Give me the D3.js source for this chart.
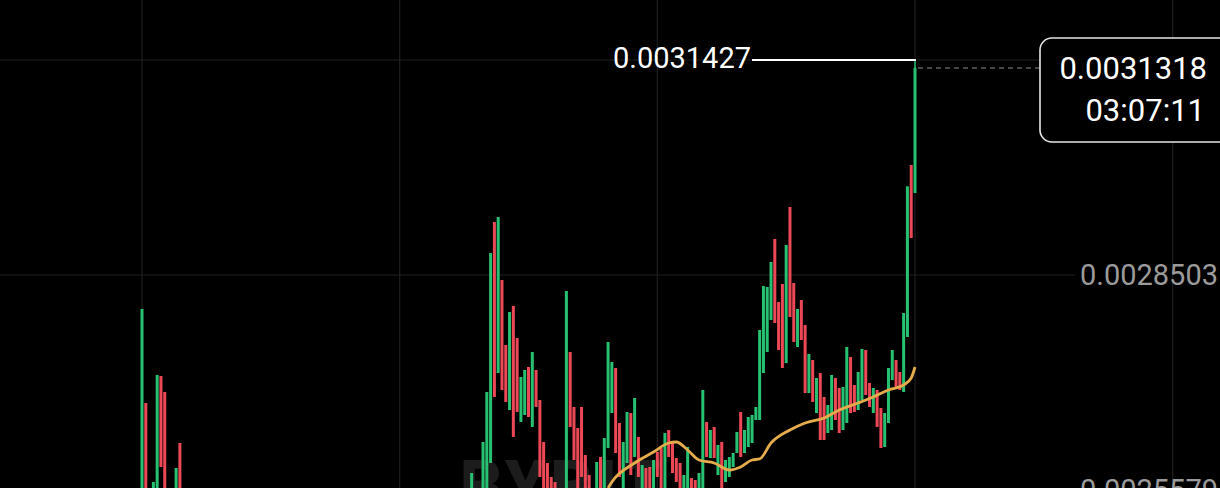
<!DOCTYPE html>
<html>
<head>
<meta charset="utf-8">
<script src="https://cdn.jsdelivr.net/npm/d3@7"></script>
<style>
  html, body { margin: 0; padding: 0; background: #000; overflow: hidden; }
  svg { display: block; font-family: Roboto, "Noto Sans", sans-serif; }
</style>
</head>
<body>
<svg width="1220" height="488"></svg>
<script>
// candle slot (position in the series), open and close prices
const slots = [0, 1, 3, 4, 5, 6, 9, 10,
  87, 90, 91, 92, 93, 94, 95, 96, 97, 98, 99, 100, 101, 102, 103, 104, 105, 106, 107, 108, 109,
  112, 113, 114, 115, 116, 117, 118, 120, 121, 122, 123, 124, 125, 126, 127, 128, 129, 130,
  131, 132, 133, 134, 135, 136, 137, 138, 139, 140, 141, 142, 143, 144, 145, 146, 147, 148,
  149, 150, 151, 152, 153, 154, 155, 156, 157, 158, 159, 160, 161, 162, 163, 164, 165, 166,
  167, 168, 169, 170, 171, 172, 173, 174, 175, 176, 177, 178, 179, 180, 181, 182, 183, 184,
  185, 186, 187, 188, 189, 190, 191, 192, 193, 194, 195, 196, 197, 198, 199, 200, 201, 202, 203, 204];

const opens = [0.0025443, 0.0026762, 0.0025443, 0.0025443, 0.0027129, 0.0026912, 0.0025443, 0.0026218,
  0.0025443, 0.0025443, 0.0025443, 0.0025946, 0.0029224, 0.0027170, 0.0028435, 0.0027551, 0.0026667,
  0.0028082, 0.0027646, 0.0026504, 0.0026599, 0.0027252, 0.0026436, 0.0027211, 0.0026803, 0.0026232,
  0.0025946, 0.0025756, 0.0025688,
  0.0025443, 0.0027456, 0.0026708, 0.0026422, 0.0026708, 0.0026055, 0.0025783, 0.0025443, 0.0026028,
  0.0025443, 0.0026150, 0.0026626, 0.0027238, 0.0026490, 0.0025443, 0.0025946, 0.0026626, 0.0026028,
  0.0026300, 0.0025443, 0.0025878, 0.0025892, 0.0025443, 0.0026096, 0.0026150, 0.0025443, 0.0026395,
  0.0026218, 0.0026014, 0.0025946, 0.0025443, 0.0025443, 0.0025742, 0.0025715, 0.0025443, 0.0025443,
  0.0026504, 0.0026014, 0.0026436, 0.0025783, 0.0026232, 0.0025688, 0.0025756, 0.0025892, 0.0026082,
  0.0026640, 0.0026082, 0.0026164, 0.0026218, 0.0026531, 0.0026531, 0.0027170, 0.0027456, 0.0027891,
  0.0028993, 0.0028136, 0.0028381, 0.0027306, 0.0029428, 0.0028394, 0.0027524, 0.0028163, 0.0027823,
  0.0026898, 0.0027347, 0.0026626, 0.0027170, 0.0026844, 0.0026354, 0.0026395, 0.0027102, 0.0026966,
  0.0026395, 0.0026490, 0.0027388, 0.0027007, 0.0026667, 0.0026803, 0.0027483, 0.0027034, 0.0026626,
  0.0026939, 0.0026694, 0.0026164, 0.0026490, 0.0027075, 0.0027347, 0.0027184, 0.0026912, 0.0027660,
  0.0029999, 0.0029618];

const closes = [0.0028041, 0.0025443, 0.0025688, 0.0027143, 0.0025892, 0.0025443, 0.0025878, 0.0025443,
  0.0025810, 0.0026232, 0.0026912, 0.0028802, 0.0026844, 0.0029292, 0.0026939, 0.0026776, 0.0028000,
  0.0026300, 0.0026640, 0.0027116, 0.0027211, 0.0026572, 0.0027456, 0.0026708, 0.0025756, 0.0025443,
  0.0025443, 0.0025443, 0.0025443,
  0.0028285, 0.0026436, 0.0025987, 0.0025443, 0.0025756, 0.0025443, 0.0025443, 0.0025960, 0.0025443,
  0.0026286, 0.0027592, 0.0027320, 0.0026082, 0.0025756, 0.0026232, 0.0026640, 0.0025783, 0.0026830,
  0.0025756, 0.0025919, 0.0025443, 0.0025443, 0.0025987, 0.0025756, 0.0025443, 0.0026354, 0.0026028,
  0.0025810, 0.0025688, 0.0025443, 0.0025783, 0.0026164, 0.0025443, 0.0025443, 0.0025810, 0.0026939,
  0.0026028, 0.0026395, 0.0026014, 0.0026191, 0.0025443, 0.0025987, 0.0026028, 0.0026082, 0.0026368,
  0.0026028, 0.0026395, 0.0026572, 0.0026599, 0.0026708, 0.0027755, 0.0028353, 0.0028340, 0.0028680,
  0.0027850, 0.0027483, 0.0027238, 0.0028911, 0.0027932, 0.0027592, 0.0028041, 0.0027619, 0.0026898,
  0.0027429, 0.0026776, 0.0027102, 0.0026259, 0.0026259, 0.0026735, 0.0027143, 0.0026531, 0.0026354,
  0.0026980, 0.0027524, 0.0026626, 0.0026640, 0.0027184, 0.0027497, 0.0026871, 0.0026708, 0.0026966,
  0.0026436, 0.0026150, 0.0026626, 0.0027238, 0.0027483, 0.0026980, 0.0026939, 0.0027986, 0.0029709,
  0.0029006, 0.0031318];

// moving average line, read as points
const maSlots = [123, 124, 130, 135, 139, 141, 144, 147, 151, 155, 158, 161, 163, 166, 171, 175, 180, 184, 189, 193, 197, 201, 203, 204];
const maValues = [0.0025606, 0.0025688, 0.0025946, 0.0026096, 0.0026218, 0.0026232, 0.0026123, 0.0025987,
  0.0025946, 0.0025851, 0.0025892, 0.0025987, 0.0026001, 0.0026218, 0.0026395, 0.0026490, 0.0026558,
  0.0026667, 0.0026762, 0.0026844, 0.0026939, 0.0027007, 0.0027102, 0.0027252];

const priceTicks = [0.0025579, 0.0028503, 0.0031427];
const timeTicks = [0, 68, 136, 204, 272];
const highPrice = 0.0031427;
const lastPrice = 0.0031318;
const countdown = '03:07:11';

const svg = d3.select('svg');

const x = d3.scaleLinear().domain([0, 204]).range([142, 915]);
const y = d3.scaleLinear().domain([0.0025579, 0.0031427]).range([490, 60]);

// grid
svg.append('g')
    .selectAll('line')
    .data(timeTicks)
    .enter()
    .append('line')
    .attr('x1', d => x(d)).attr('x2', d => x(d))
    .attr('y1', 0).attr('y2', 488)
    .attr('stroke', '#1f1f1f')
    .attr('stroke-width', 1.2);

svg.append('g')
    .selectAll('line')
    .data(priceTicks)
    .enter()
    .append('line')
    .attr('x1', 0).attr('x2', 1075)
    .attr('y1', d => y(d)).attr('y2', d => y(d))
    .attr('stroke', '#1f1f1f')
    .attr('stroke-width', 1.2);

// watermark
svg.append('text')
    .attr('x', 460)
    .attr('y', 508)
    .attr('font-size', 66)
    .attr('font-weight', 900)
    .attr('letter-spacing', 4)
    .attr('fill', '#1c1c1c')
    .text('BYBIT');

// price labels on the right (the top one sits under the last-price box)
svg.append('g')
    .selectAll('text')
    .data(priceTicks.filter(d => d < lastPrice))
    .enter()
    .append('text')
    .attr('x', 1218)
    .attr('y', d => y(d))
    .attr('dy', '0.36em')
    .attr('text-anchor', 'end')
    .attr('font-size', 29)
    .attr('fill', '#9b9b9b')
    .text(d => d.toFixed(7));

// candles
const candles = slots.map((s, i) => ({ slot: s, open: opens[i], close: closes[i] }));
const green = '#27c172';
const red = '#ec4856';

svg.append('g')
    .selectAll('rect')
    .data(candles)
    .enter()
    .append('rect')
    .attr('x', d => x(d.slot) - 1.5)
    .attr('width', 3)
    .attr('y', d => y(Math.max(d.open, d.close)))
    .attr('height', d => Math.max(1, Math.abs(y(d.open) - y(d.close))))
    .attr('fill', d => d.close >= d.open ? green : red);

// wick of the last candle up to the high
const last = candles[candles.length - 1];
svg.append('line')
    .attr('x1', x(last.slot)).attr('x2', x(last.slot))
    .attr('y1', y(highPrice)).attr('y2', y(last.close))
    .attr('stroke', green)
    .attr('stroke-width', 1.5);

// moving average
const maLine = d3.line()
    .x((d, i) => x(maSlots[i]))
    .y(d => y(d))
    .curve(d3.curveMonotoneX);

svg.append('path')
    .datum(maValues)
    .attr('d', maLine)
    .attr('fill', 'none')
    .attr('stroke', '#e5ac4b')
    .attr('stroke-width', 2.8);

// high marker
svg.append('line')
    .attr('x1', 752).attr('x2', x(last.slot) + 1)
    .attr('y1', y(highPrice)).attr('y2', y(highPrice))
    .attr('stroke', '#fff')
    .attr('stroke-width', 2);

svg.append('text')
    .attr('x', 751)
    .attr('y', y(highPrice) - 2)
    .attr('dy', '0.36em')
    .attr('text-anchor', 'end')
    .attr('font-size', 29)
    .attr('fill', '#fff')
    .text(highPrice.toFixed(7));

// last price line and box
svg.append('line')
    .attr('x1', x(last.slot) + 3).attr('x2', 1040)
    .attr('y1', y(lastPrice)).attr('y2', y(lastPrice))
    .attr('stroke', '#8a8a8a')
    .attr('stroke-width', 1.2)
    .attr('stroke-dasharray', '5,4');

svg.append('rect')
    .attr('x', 1040)
    .attr('y', 38)
    .attr('width', 200)
    .attr('height', 104)
    .attr('rx', 12)
    .attr('fill', '#000')
    .attr('stroke', '#e6e6e6')
    .attr('stroke-width', 1.6);

svg.append('text')
    .attr('x', 1207)
    .attr('y', y(lastPrice))
    .attr('dy', '0.36em')
    .attr('text-anchor', 'end')
    .attr('font-size', 31)
    .attr('fill', '#fff')
    .text(lastPrice.toFixed(7));

svg.append('text')
    .attr('x', 1205)
    .attr('y', 110)
    .attr('dy', '0.36em')
    .attr('text-anchor', 'end')
    .attr('font-size', 31)
    .attr('fill', '#fff')
    .text(countdown);
</script>
</body>
</html>
